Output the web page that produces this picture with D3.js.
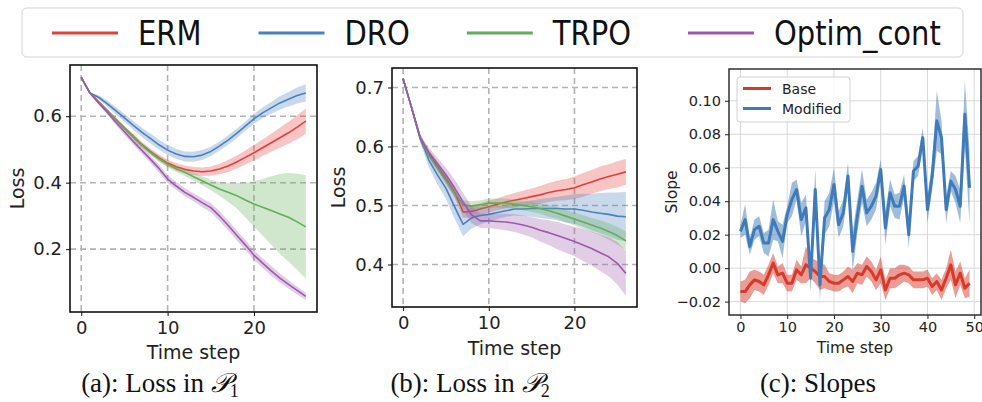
<!DOCTYPE html>
<html>
<head>
<meta charset="utf-8">
<script src="https://cdn.jsdelivr.net/npm/d3@7/dist/d3.min.js"></script>
<style>
  body { margin: 0; background: #fff; }
  svg { display: block; font-family: "DejaVu Sans", sans-serif; }
</style>
</head>
<body>
<script>
// ---- data ----
const methods = ["ERM", "DRO", "TRPO", "Optim_cont"];
const methodColors = ["#e0403a", "#4a80bd", "#62ac5a", "#9c5aab"];

// panel (a): loss in P1, time steps 0..26
const stepsA = d3.range(27);
const ermA   = [0.717,0.670,0.644,0.618,0.591,0.565,0.540,0.515,0.494,0.475,0.459,0.448,0.440,0.435,0.433,0.435,0.441,0.450,0.462,0.476,0.490,0.505,0.520,0.535,0.550,0.567,0.585];
const droA   = [0.717,0.670,0.657,0.638,0.617,0.595,0.573,0.552,0.533,0.514,0.498,0.486,0.479,0.478,0.483,0.494,0.510,0.528,0.548,0.570,0.592,0.610,0.625,0.640,0.651,0.662,0.670];
const trpoA  = [0.717,0.670,0.643,0.617,0.590,0.563,0.538,0.513,0.491,0.472,0.455,0.442,0.431,0.418,0.406,0.393,0.381,0.371,0.361,0.348,0.336,0.326,0.316,0.306,0.296,0.282,0.267];
const optimA = [0.717,0.670,0.640,0.612,0.582,0.553,0.525,0.498,0.471,0.443,0.411,0.390,0.371,0.356,0.340,0.325,0.300,0.272,0.242,0.213,0.182,0.158,0.135,0.113,0.094,0.076,0.058];
const ermSdA   = [0,0.002,0.003,0.004,0.005,0.006,0.007,0.008,0.009,0.010,0.010,0.011,0.012,0.012,0.013,0.014,0.016,0.018,0.020,0.021,0.023,0.025,0.027,0.030,0.033,0.036,0.038];
const droSdA   = [0,0.003,0.006,0.009,0.011,0.012,0.013,0.014,0.015,0.015,0.015,0.015,0.015,0.015,0.015,0.014,0.014,0.014,0.014,0.014,0.015,0.016,0.018,0.020,0.022,0.024,0.026];
const trpoSdA  = [0,0.002,0.003,0.004,0.005,0.006,0.007,0.008,0.008,0.009,0.009,0.010,0.011,0.012,0.013,0.016,0.020,0.028,0.038,0.052,0.068,0.085,0.103,0.120,0.133,0.145,0.155];
const optimSdA = [0,0.002,0.004,0.006,0.008,0.009,0.010,0.011,0.011,0.012,0.012,0.012,0.012,0.012,0.013,0.014,0.015,0.015,0.015,0.015,0.015,0.015,0.015,0.014,0.013,0.012,0.011];

// panel (b): loss in P2
const stepsB = d3.range(27);
const ermB   = [0.715,0.665,0.614,0.589,0.567,0.546,0.523,0.489,0.490,0.494,0.498,0.502,0.506,0.509,0.512,0.515,0.518,0.522,0.525,0.527,0.530,0.535,0.540,0.545,0.549,0.553,0.557];
const droB   = [0.715,0.665,0.614,0.577,0.552,0.529,0.498,0.468,0.479,0.483,0.485,0.488,0.491,0.494,0.494,0.495,0.495,0.495,0.495,0.494,0.494,0.492,0.489,0.487,0.485,0.482,0.481];
const trpoB  = [0.715,0.665,0.614,0.585,0.564,0.543,0.522,0.501,0.499,0.501,0.504,0.504,0.504,0.502,0.500,0.498,0.495,0.491,0.487,0.482,0.477,0.472,0.467,0.462,0.456,0.449,0.440];
const optimB = [0.715,0.665,0.614,0.590,0.571,0.552,0.530,0.506,0.484,0.474,0.474,0.473,0.472,0.470,0.467,0.463,0.458,0.454,0.449,0.444,0.439,0.433,0.427,0.420,0.413,0.402,0.385];
const ermSdB   = [0,0.004,0.005,0.006,0.007,0.008,0.009,0.010,0.010,0.010,0.010,0.010,0.011,0.012,0.013,0.014,0.015,0.016,0.017,0.018,0.019,0.020,0.020,0.021,0.021,0.022,0.022];
const droSdB   = [0,0.005,0.008,0.012,0.016,0.018,0.020,0.020,0.018,0.015,0.012,0.011,0.010,0.011,0.012,0.014,0.016,0.018,0.020,0.023,0.025,0.028,0.031,0.034,0.037,0.040,0.042];
const trpoSdB  = [0,0.004,0.005,0.006,0.007,0.008,0.008,0.008,0.008,0.008,0.008,0.008,0.008,0.008,0.008,0.009,0.009,0.010,0.010,0.011,0.011,0.012,0.012,0.013,0.014,0.015,0.016];
const optimSdB = [0,0.004,0.006,0.008,0.010,0.012,0.014,0.015,0.014,0.012,0.012,0.013,0.014,0.015,0.016,0.017,0.019,0.021,0.023,0.024,0.025,0.027,0.029,0.031,0.033,0.036,0.038];

// panel (c): slopes, time steps 0..49
const stepsC = d3.range(50);
const slopeNames = ["Base", "Modified"];
const slopeColors = ["#d7392b", "#3f7bb8"];
const baseC = [-0.014,-0.014,-0.010,-0.007,-0.008,-0.010,-0.004,0.003,-0.004,-0.003,
               -0.009,-0.009,-0.001,-0.004,0.002,0.000,-0.002,-0.005,-0.005,-0.008,
               -0.009,-0.009,-0.007,-0.005,-0.008,-0.003,-0.004,0.001,-0.002,-0.007,
               -0.001,-0.013,-0.006,-0.006,-0.004,-0.003,-0.004,-0.007,-0.007,-0.007,
               -0.006,-0.011,-0.008,-0.013,-0.006,0.002,-0.010,-0.003,-0.012,-0.009];
const modC  = [0.022,0.029,0.013,0.023,0.025,0.015,0.015,0.029,0.022,0.016,
               0.032,0.041,0.047,0.029,0.036,-0.006,0.047,-0.010,0.030,0.035,
               0.050,0.026,0.033,0.055,0.010,0.031,0.049,0.033,0.037,0.043,
               0.059,0.024,0.045,0.037,0.037,0.049,0.020,0.058,0.061,0.078,
               0.035,0.055,0.088,0.078,0.035,0.052,0.047,0.037,0.092,0.048];
const baseSdC = [0.006,0.007,0.008,0.006,0.006,0.006,0.006,0.006,0.005,0.006,
                 0.005,0.005,0.006,0.005,0.011,0.006,0.007,0.008,0.007,0.005,
                 0.005,0.005,0.005,0.006,0.007,0.006,0.006,0.006,0.006,0.006,
                 0.008,0.006,0.006,0.006,0.006,0.005,0.005,0.005,0.005,0.005,
                 0.005,0.005,0.005,0.006,0.006,0.009,0.008,0.007,0.006,0.008];
const modSdC  = [0.004,0.009,0.005,0.006,0.006,0.006,0.008,0.012,0.006,0.010,
                 0.005,0.010,0.006,0.010,0.008,0.008,0.012,0.009,0.010,0.010,
                 0.010,0.008,0.008,0.008,0.012,0.010,0.010,0.008,0.008,0.008,
                 0.006,0.010,0.008,0.007,0.008,0.007,0.008,0.006,0.006,0.006,
                 0.008,0.008,0.018,0.010,0.008,0.006,0.008,0.010,0.020,0.022];

const ticksAx = [0, 10, 20];
const ticksAy = [0.2, 0.4, 0.6];
const ticksBy = [0.4, 0.5, 0.6, 0.7];
const ticksCx = [0, 10, 20, 30, 40, 50];
const ticksCy = [-0.02, 0, 0.02, 0.04, 0.06, 0.08, 0.10];
const captions = [["(a): Loss in ", "1"], ["(b): Loss in ", "2"], ["(c): Slopes", null]];

// ---- drawing ----
const W = 982, H = 402;
const svg = d3.select("body").append("svg").attr("width", W).attr("height", H);

function drawPanel(p) {
    let x = d3.scaleLinear().domain(p.xDomain).range([p.left, p.right]);
    let y = d3.scaleLinear().domain(p.yDomain).range([p.bottom, p.top]);
    let g = svg.append("g");

    let clipId = "clip" + p.id;
    g.append("clipPath").attr("id", clipId)
        .append("rect").attr("x", p.left).attr("y", p.top)
        .attr("width", p.right - p.left).attr("height", p.bottom - p.top);

    // grid
    let grid = g.append("g");
    grid.selectAll(".gx").data(p.xTicks).enter().append("line")
        .attr("x1", d => x(d)).attr("x2", d => x(d))
        .attr("y1", p.top).attr("y2", p.bottom);
    grid.selectAll(".gy").data(p.yTicks).enter().append("line")
        .attr("y1", d => y(d)).attr("y2", d => y(d))
        .attr("x1", p.left).attr("x2", p.right);
    grid.selectAll("line")
        .attr("stroke", p.gridColor)
        .attr("stroke-width", p.gridWidth)
        .attr("stroke-dasharray", p.gridDash);

    // bands + lines
    let plot = g.append("g").attr("clip-path", "url(#" + clipId + ")");
    for (let i = 0; i < p.series.length; i++) {
        let s = p.series[i];
        let pts = p.steps.map((t, k) => ({t: t, m: s.mean[k], sd: s.sd[k]}));
        let area = d3.area().x(d => x(d.t)).y0(d => y(d.m - d.sd)).y1(d => y(d.m + d.sd));
        let line = d3.line().x(d => x(d.t)).y(d => y(d.m));
        plot.append("path").attr("d", area(pts))
            .attr("fill", s.color).attr("fill-opacity", p.bandOpacity).attr("stroke", "none");
        plot.append("path").attr("d", line(pts))
            .attr("fill", "none").attr("stroke", s.color)
            .attr("stroke-width", p.lineWidth).attr("stroke-linejoin", "round");
    }

    // axes
    let ax = g.append("g").attr("transform", "translate(0," + p.bottom + ")")
        .call(d3.axisBottom(x).tickValues(p.xTicks).tickSize(4).tickPadding(p.tickPad).tickFormat(d3.format("d")));
    let ay = g.append("g").attr("transform", "translate(" + p.left + ",0)")
        .call(d3.axisLeft(y).tickValues(p.yTicks).tickSize(4).tickPadding(4).tickFormat(p.yFormat));
    [ax, ay].forEach(a => {
        a.select(".domain").remove();
        a.selectAll("text").attr("font-size", p.tickFont).attr("fill", "#222")
            .attr("font-family", "DejaVu Sans");
        a.selectAll("line").attr("stroke", p.frameColor);
    });

    g.append("rect").attr("x", p.left).attr("y", p.top)
        .attr("width", p.right - p.left).attr("height", p.bottom - p.top)
        .attr("fill", "none").attr("stroke", p.frameColor).attr("stroke-width", p.frameWidth);

    g.append("text").attr("x", (p.left + p.right) / 2).attr("y", p.xLabelY)
        .attr("text-anchor", "middle").attr("font-size", p.labelFont).attr("fill", "#222")
        .text("Time step");
    g.append("text").attr("transform", "translate(" + p.yLabelX + "," + ((p.top + p.bottom) / 2) + ") rotate(-90)")
        .attr("text-anchor", "middle").attr("font-size", p.labelFont).attr("fill", "#222")
        .text(p.yLabel);
    return g;
}

const meanA = [ermA, droA, trpoA, optimA], sdA = [ermSdA, droSdA, trpoSdA, optimSdA];
const meanB = [ermB, droB, trpoB, optimB], sdB = [ermSdB, droSdB, trpoSdB, optimSdB];

const lossStyle = {
    gridColor: "#b3b3b3", gridWidth: 1.6, gridDash: "6,4",
    frameColor: "#111", frameWidth: 1.6, bandOpacity: 0.3, lineWidth: 1.6,
    tickFont: 18, labelFont: 19, tickPad: 5, yFormat: d3.format(".1f"), yLabel: "Loss"
};

drawPanel(Object.assign({}, lossStyle, {
    id: "a", left: 70, right: 317, top: 65, bottom: 312,
    xDomain: [-1.3, 27.3], yDomain: [0.011, 0.754],
    xTicks: ticksAx, yTicks: ticksAy, steps: stepsA,
    series: methods.map((m, i) => ({color: methodColors[i], mean: meanA[i], sd: sdA[i]})),
    xLabelY: 359, yLabelX: 24
}));

drawPanel(Object.assign({}, lossStyle, {
    id: "b", left: 392, right: 637, top: 68, bottom: 307,
    xDomain: [-1.3, 27.3], yDomain: [0.328, 0.733],
    xTicks: ticksAx, yTicks: ticksBy, steps: stepsB,
    series: methods.map((m, i) => ({color: methodColors[i], mean: meanB[i], sd: sdB[i]})),
    xLabelY: 355, yLabelX: 345
}));

const meanC = [baseC, modC], sdC = [baseSdC, modSdC];
const gc = drawPanel({
    id: "c", left: 729, right: 981, top: 69, bottom: 315,
    xDomain: [-2.45, 51.45], yDomain: [-0.028, 0.119],
    xTicks: ticksCx, yTicks: ticksCy, steps: stepsC,
    series: slopeNames.map((m, i) => ({color: slopeColors[i], mean: meanC[i], sd: sdC[i]})),
    gridColor: "#d9d9d9", gridWidth: 1, gridDash: null,
    frameColor: "#222", frameWidth: 1.4, bandOpacity: 0.5, lineWidth: 3,
    tickFont: 14.5, labelFont: 15.5, tickPad: 3,
    yFormat: d => d3.format(".2f")(d).replace("-", "\u2212"), yLabel: "Slope",
    xLabelY: 353, yLabelX: 677
});

// panel (c) inner legend
const lgc = gc.append("g");
lgc.append("rect").attr("x", 737).attr("y", 77).attr("width", 113).attr("height", 45)
    .attr("rx", 3).attr("fill", "#fff").attr("fill-opacity", 0.85)
    .attr("stroke", "#d0d0d0").attr("stroke-width", 1);
slopeNames.forEach((n, i) => {
    let yy = 88.5 + i * 20;
    lgc.append("line").attr("x1", 743).attr("x2", 771).attr("y1", yy).attr("y2", yy)
        .attr("stroke", slopeColors[i]).attr("stroke-width", 3);
    lgc.append("text").attr("x", 782).attr("y", yy).attr("dy", "0.36em")
        .attr("font-size", 14).attr("fill", "#222").text(n);
});

// top legend (text a little taller than wide, as in the source figure)
const leg = svg.append("g");
leg.append("rect").attr("x", 22).attr("y", 8).attr("width", 941).attr("height", 49)
    .attr("rx", 5).attr("fill", "#fff").attr("stroke", "#d4d4d4").attr("stroke-width", 1);
let lx = 52;
methods.forEach((m, i) => {
    leg.append("line").attr("x1", lx).attr("x2", lx + 66).attr("y1", 33).attr("y2", 33)
        .attr("stroke", methodColors[i]).attr("stroke-width", 3);
    let t = leg.append("text").attr("transform", "translate(" + (lx + 86) + ",33) scale(1,1.15)")
        .attr("dy", "0.36em").attr("font-size", 29).attr("fill", "#111").text(m);
    lx = lx + 86 + t.node().getComputedTextLength() + 57;
});

// captions
const capX = [160, 470, 818];
captions.forEach((c, i) => {
    let t = svg.append("text").attr("x", capX[i]).attr("y", 392)
        .attr("text-anchor", "middle").attr("font-family", "Liberation Serif, serif")
        .attr("font-size", 27).attr("fill", "#111");
    t.append("tspan").text(c[0]);
    if (c[1] !== null) {
        t.append("tspan").attr("font-style", "italic").text("\uD835\uDCAB");
        t.append("tspan").attr("font-size", 18).attr("dy", 5).text(c[1]);
    }
});
</script>
</body>
</html>
